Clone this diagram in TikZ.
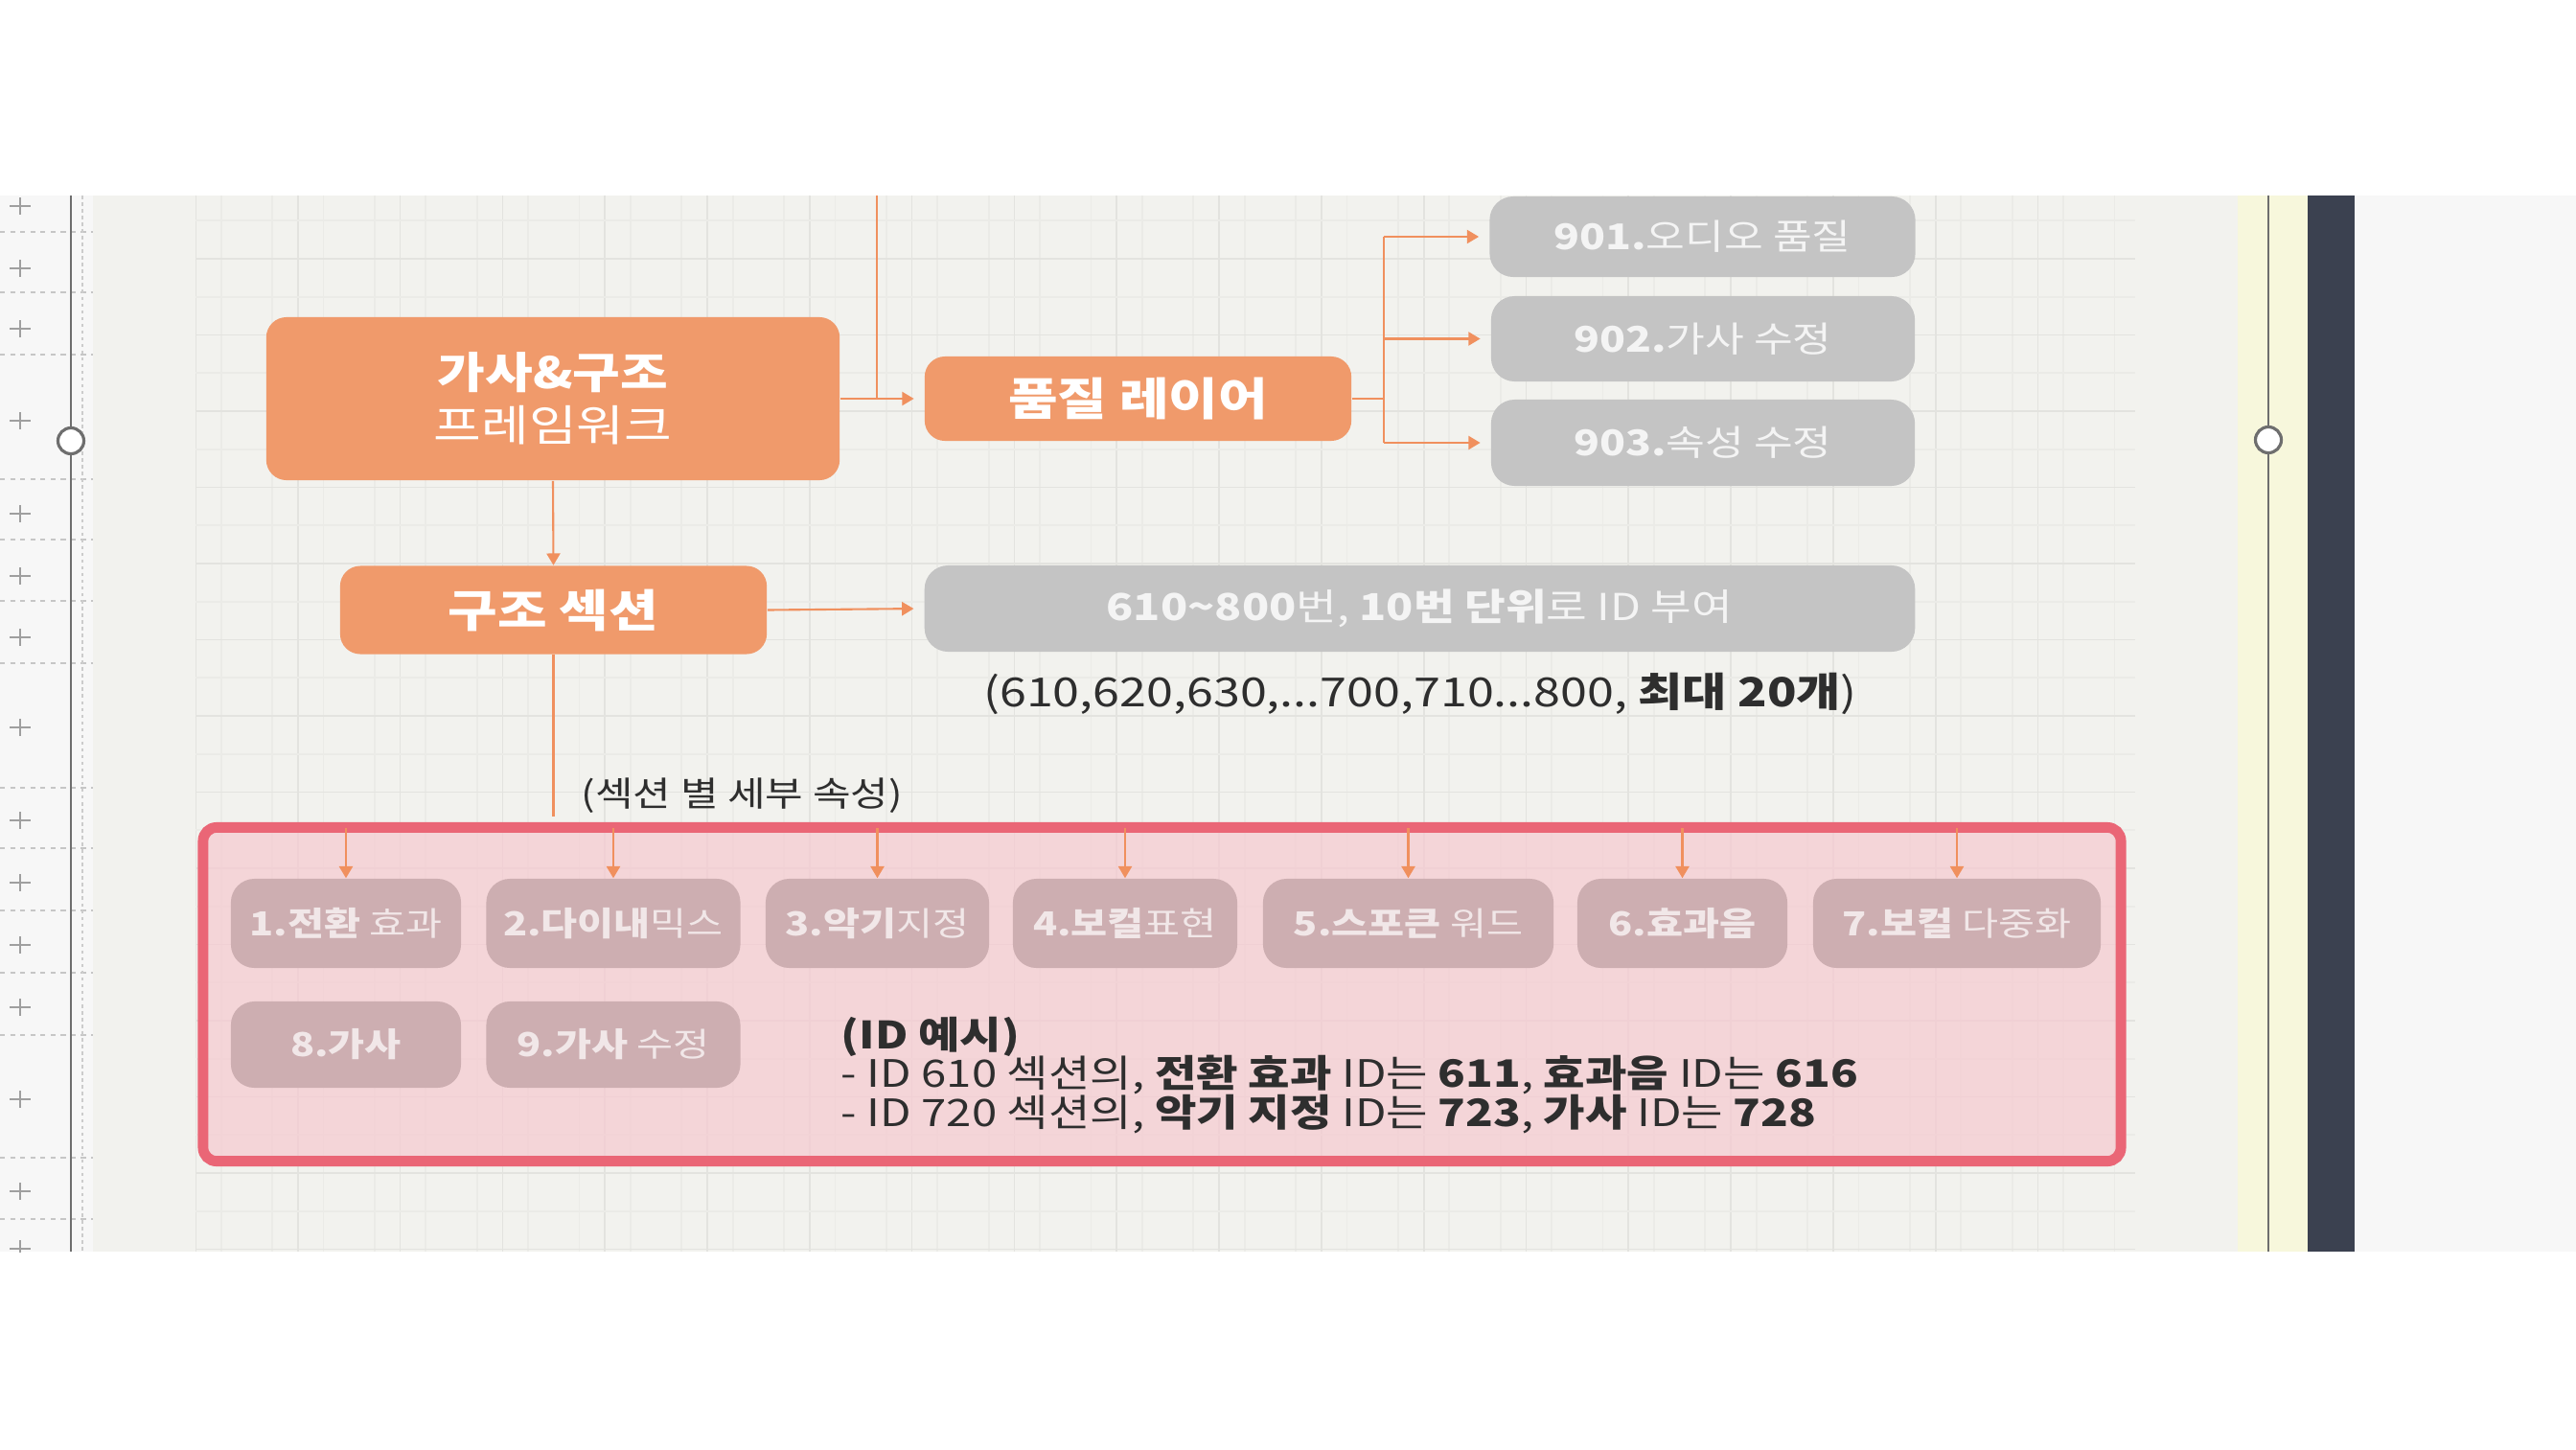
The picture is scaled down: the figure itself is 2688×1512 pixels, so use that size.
\documentclass[tikz,border=0pt]{standalone}
\usepackage{fontspec}
\setmainfont{Noto Sans CJK KR}[FakeStretch=1.2]
\usetikzlibrary{arrows.meta, calc}

\definecolor{canvasBg}{HTML}{F2F2EE}
\definecolor{stripBg}{HTML}{F7F7F7}
\definecolor{gridMinor}{HTML}{EBEBE7}
\definecolor{gridMajor}{HTML}{E3E3DF}
\definecolor{boxOrange}{HTML}{F09A6B}
\definecolor{lineOrange}{HTML}{F0905E}
\definecolor{boxGray}{HTML}{C4C4C4}
\definecolor{framePink}{HTML}{EA6676}
\definecolor{fillPink}{HTML}{F6CAD0}
\definecolor{boxMauve}{HTML}{CDAEB1}
\definecolor{textDark}{HTML}{2E2E2E}
\definecolor{textLight}{HTML}{F4F4F4}
\definecolor{textBlush}{HTML}{F1E7E8}
\definecolor{bandYellow}{HTML}{F7F7DC}
\definecolor{barDark}{HTML}{3B4150}
\definecolor{rulerGray}{HTML}{6E6E6E}

% linii stranse pentru exemplul de ID
\newcommand{\idlinesfont}{\fontsize{11.2}{11.6}\selectfont\lineskiplimit=-20pt\relax}

\begin{document}
\begin{tikzpicture}[
    x=0.01cm, y=-0.01cm,
    % --- stiluri ---
    layerbox/.style={
            fill=boxOrange,
            rounded corners=6pt,
            align=center,
            text=white,
            inner sep=0pt,
            font=\fontsize{13.3}{15}\selectfont\bfseries
        },
    idbox/.style={
            fill=boxGray,
            rounded corners=7pt,
            text=textLight,
            inner sep=0pt,
            font=\fontsize{10.5}{12}\selectfont
        },
    attrbox/.style={
            fill=boxMauve,
            rounded corners=7pt,
            text=textBlush,
            inner sep=0pt,
            font=\fontsize{9.8}{11}\selectfont
        },
    flowArrow/.style={
            -{Triangle[length=3.5pt,width=4pt]},
            line width=0.6pt,
            color=lineOrange
        },
    flowLine/.style={
            line width=0.6pt,
            color=lineOrange
        },
    ruler/.style={
            line width=0.6pt,
            color=rulerGray
        },
    handle/.style={
            circle,
            draw=rulerGray,
            fill=white,
            line width=0.9pt,
            minimum size=0.27cm,
            inner sep=0pt
        },
    note/.style={
            text=textDark,
            inner sep=0pt
        }
    ]

    % 0. Fundal (ecran editor)
    \useasboundingbox (0,0) rectangle (2688,1512);
    \fill[white] (0,0) rectangle (2688,1512);
    \fill[canvasBg] (0,204) rectangle (2335,1306);
    \fill[stripBg] (0,204) rectangle (97,1306);
    \fill[bandYellow] (2335,204) rectangle (2408,1306);
    \fill[barDark] (2408,204) rectangle (2457,1306);
    \fill[stripBg] (2457,204) rectangle (2688,1306);

    % grila
    \begin{scope}
        \clip (204,204) rectangle (2228,1306);
        \foreach \gx in {0,...,37}
            \draw[gridMinor, line width=0.5pt] ({230.7+53.4*\gx},204) -- ++(0,1102);
        \foreach \gx in {0,...,18}
            \draw[gridMajor, line width=0.5pt] ({204+106.8*\gx},204) -- ++(0,1102);
        \foreach \gy in {0,...,13}
            \draw[gridMinor, line width=0.5pt] (204,{230.25+79.5*\gy}) -- ++(2024,0);
        \foreach \gy in {0,...,13}
            \draw[gridMajor, line width=0.5pt] (204,{270+79.5*\gy}) -- ++(2024,0);
    \end{scope}

    % rigla din stanga
    \begin{scope}
        \clip (0,204) rectangle (2688,1306);
        \foreach \py in {215,280,343,439,536,601,665,759,856,921,986,1051,1147,1243,1303}
            \draw[gray!75, line width=0.65pt] (10,\py) -- (32,\py) (21,{\py-9}) -- (21,{\py+9});
        \foreach \dy in {242,305,370,500,563,627,692,822,885,950,1015,1080,1208,1272}
            \draw[gray!45, line width=0.4pt, dash pattern=on 1.5pt off 1.5pt] (0,\dy) -- (97,\dy);
    \end{scope}
    \draw[gray!40, line width=0.5pt, dash pattern=on 1pt off 1pt] (86,204) -- (86,1306);
    \draw[ruler] (74,204) -- (74,1306);
    \draw[ruler] (2367,204) -- (2367,1306);
    \node[handle] (leftHandle) at (74,460) {};
    \node[handle] (rightHandle) at (2367,459) {};

    % 1. Nodul principal si straturile
    \node[layerbox, minimum width=5.98cm, minimum height=1.70cm, font=\fontsize{12.8}{15.6}\selectfont] (framework) at (577,416)
        {\textbf{가사\&구조}\\프레임워크};
    \node[layerbox, minimum width=4.45cm, minimum height=0.92cm] (section) at (577.5,636.5) {구조 섹션};
    \node[layerbox, minimum width=4.45cm, minimum height=0.88cm] (quality) at (1187.5,416) {품질 레이어};

    % 2. ID-uri de calitate
    \node[idbox, minimum width=4.44cm, minimum height=0.84cm] (q901) at (1776.5,247) {\textbf{901.}오디오 품질};
    \node[idbox, minimum width=4.42cm, minimum height=0.89cm] (q902) at (1777,353.5) {\textbf{902.}가사 수정};
    \node[idbox, minimum width=4.42cm, minimum height=0.90cm] (q903) at (1777,462) {\textbf{903.}속성 수정};
    \node[idbox, minimum width=10.33cm, minimum height=0.90cm, font=\fontsize{11}{13}\selectfont] (idrange) at (1481.5,635)
        {\textbf{610\textasciitilde800}번, \textbf{10번 단위}로 ID 부여};
    \node[note, font=\fontsize{11.9}{14}\selectfont] (rangeNote) at (1482,724)
        {(610,620,630,...700,710...800, \textbf{최대 20개})};
    \node[note, anchor=west, font=\fontsize{10.2}{12}\selectfont] (detailNote) at (606,830) {(섹션 별 세부 속성)};

    % 3. Cadrul cu atribute
    \node[draw=framePink, fill=fillPink, fill opacity=0.72, line width=3.1pt, rounded corners=4pt,
          minimum width=20cm, minimum height=3.48cm, inner sep=0pt] (attrframe) at (1212.5,1037.5) {};

    \node[attrbox, minimum width=2.40cm, minimum height=0.93cm] (a1) at (361,963.5) {\textbf{1.전환} 효과};
    \node[attrbox, minimum width=2.65cm, minimum height=0.93cm] (a2) at (640,963.5) {\textbf{2.다이내}믹스};
    \node[attrbox, minimum width=2.33cm, minimum height=0.93cm] (a3) at (915.5,963.5) {\textbf{3.악기}지정};
    \node[attrbox, minimum width=2.34cm, minimum height=0.93cm] (a4) at (1174,963.5) {\textbf{4.보컬}표현};
    \node[attrbox, minimum width=3.03cm, minimum height=0.93cm] (a5) at (1469.5,963.5) {\textbf{5.스포큰} 워드};
    \node[attrbox, minimum width=2.19cm, minimum height=0.93cm] (a6) at (1755.5,963.5) {\textbf{6.효과음}};
    \node[attrbox, minimum width=3.00cm, minimum height=0.93cm] (a7) at (2042,963.5) {\textbf{7.보컬} 다중화};
    \node[attrbox, minimum width=2.40cm, minimum height=0.90cm] (a8) at (361,1090) {\textbf{8.가사}};
    \node[attrbox, minimum width=2.65cm, minimum height=0.90cm] (a9) at (640,1090) {\textbf{9.가사} 수정};

    \node[note, anchor=north west, align=left, font=\idlinesfont] (idExample) at (877,1060)
        {\textbf{(ID 예시)}\\
         - ID 610 섹션의, \textbf{전환 효과} ID는 \textbf{611}, \textbf{효과음} ID는 \textbf{616}\\
         - ID 720 섹션의, \textbf{악기 지정} ID는 \textbf{723}, \textbf{가사} ID는 \textbf{728}};

    % 4. Conexiuni
    \coordinate (topFeed) at (915,204);
    \coordinate (qSplit) at (1444,416);
    \draw[flowLine] (topFeed) -- (topFeed |- quality.west);
    \draw[flowArrow, shorten >=3pt] (framework.east) -- (quality.west);
    \draw[flowLine] (quality.east) -- (qSplit);
    \draw[flowLine] (qSplit |- q901.west) -- (qSplit |- q903.west);
    \foreach \q in {q901,q902,q903}
        \draw[flowArrow, shorten >=3pt] (qSplit |- \q.west) -- (\q.west);
    \draw[flowArrow] (framework.south) -- (section.north);
    \draw[flowArrow, shorten >=3pt] (section.east) -- (idrange.west);
    \draw[flowLine] (section.south) -- ($(section.south |- attrframe.north)+(0,-6)$);
    \foreach \b in {a1,a2,a3,a4,a5,a6,a7}
        \draw[flowArrow] ($(\b.north |- attrframe.north)+(0,6)$) -- (\b.north);

\end{tikzpicture}
\end{document}
